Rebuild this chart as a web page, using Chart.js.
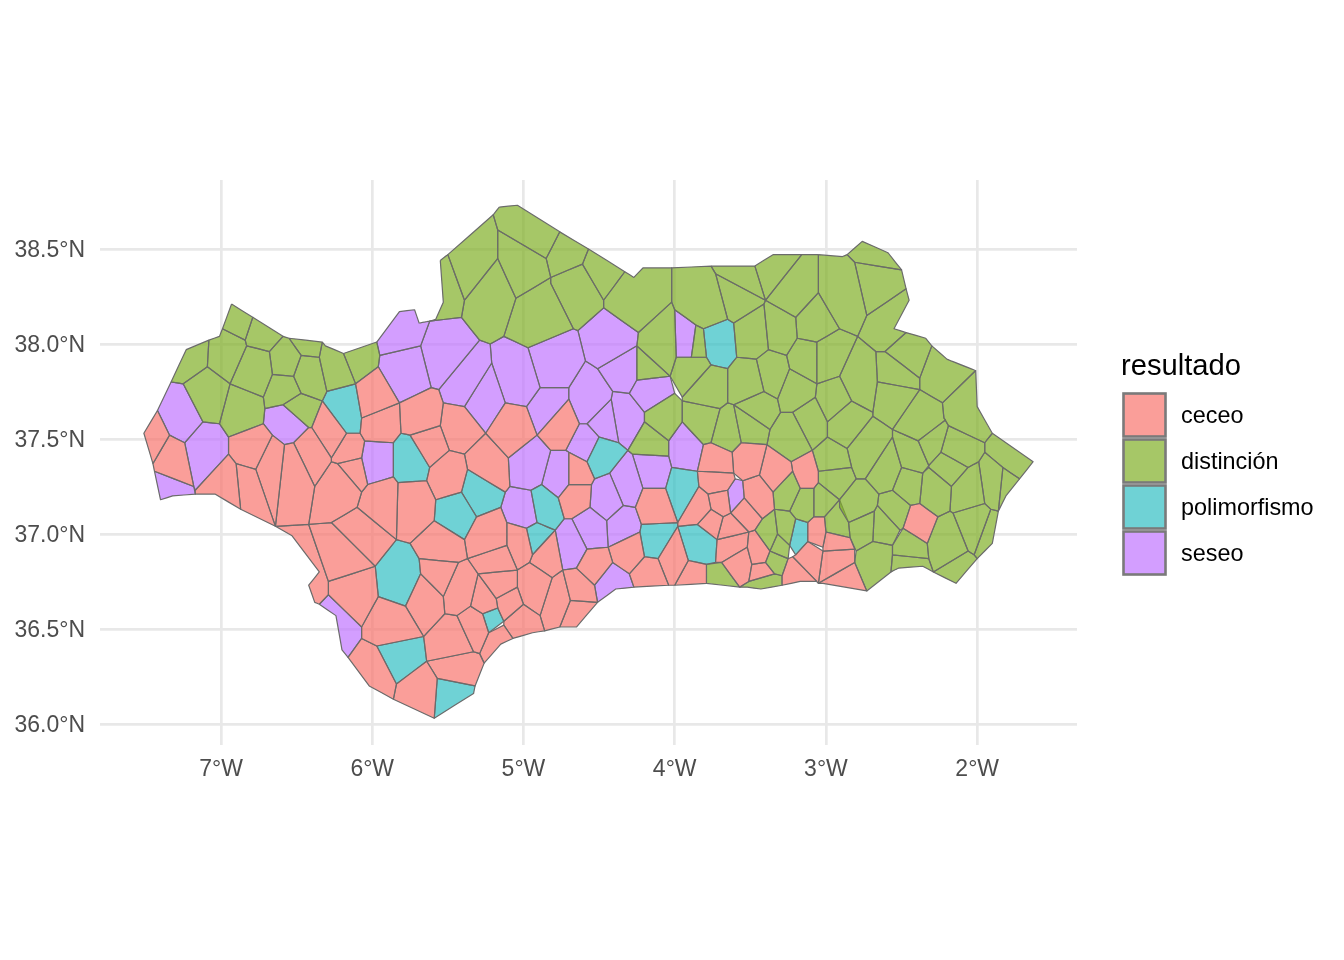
<!DOCTYPE html>
<html>
<head>
<meta charset="utf-8">
<title>resultado</title>
<script src="https://cdn.jsdelivr.net/npm/chart.js@4"></script>
<style>
  html, body { margin: 0; padding: 0; background: #fff; }
  canvas { display: block; }
</style>
</head>
<body>
<canvas id="mapChart" width="1344" height="960"></canvas>
<script>
// Tick positions of the graticule
const lonTicks = [-7, -6, -5, -4, -3, -2];
const latTicks = [36, 36.5, 37, 37.5, 38, 38.5];

// Legend entries
const resultNames = ['ceceo', 'distinción', 'polimorfismo', 'seseo'];
const resultColors = ['248, 117, 109', '128, 175, 39', '50, 191, 195', '193, 117, 255'];

// One flat list per cell: degrees west, degrees north, degrees west, degrees north...
const ceceo = [
  [7.42,37.65, 7.34,37.52, 7.45,37.37, 7.51,37.53],
  [7.34,37.52, 7.24,37.48, 7.18,37.25, 7.44,37.33, 7.45,37.37],
  [7.17,37.23, 6.95,37.42, 6.90,37.37, 6.87,37.13, 7.04,37.21, 7.17,37.21],
  [6.90,37.37, 6.77,37.34, 6.64,37.04, 6.87,37.13],
  [6.95,37.51, 6.72,37.58, 6.66,37.52, 6.77,37.34, 6.90,37.37, 6.95,37.42],
  [6.66,37.52, 6.58,37.47, 6.64,37.04, 6.77,37.34],
  [6.58,37.47, 6.52,37.48, 6.38,37.25, 6.42,37.05, 6.64,37.04],
  [6.52,37.48, 6.42,37.56, 6.40,37.56, 6.27,37.40, 6.27,37.38, 6.38,37.25],
  [6.33,37.70, 6.17,37.53, 6.27,37.40, 6.40,37.56],
  [6.11,37.79, 5.96,37.88, 5.82,37.69, 6.07,37.61],
  [6.07,37.61, 5.82,37.69, 5.81,37.53, 5.86,37.48, 6.05,37.49, 6.08,37.53],
  [6.17,37.53, 6.08,37.53, 6.05,37.49, 6.07,37.40, 6.23,37.37, 6.27,37.38, 6.27,37.40],
  [6.27,37.38, 6.23,37.37, 6.07,37.22, 6.10,37.14, 6.27,37.06, 6.42,37.05, 6.38,37.25],
  [6.23,37.37, 6.07,37.40, 6.03,37.26, 6.07,37.22],
  [6.03,37.26, 5.86,37.30, 5.83,37.27, 5.84,36.97, 6.10,37.14, 6.07,37.22],
  [5.83,37.27, 5.64,37.28, 5.58,37.18, 5.59,37.07, 5.75,36.95, 5.84,36.97],
  [5.64,37.28, 5.62,37.35, 5.49,37.44, 5.39,37.42, 5.37,37.34, 5.41,37.22, 5.58,37.18],
  [6.27,37.06, 6.10,37.14, 5.84,36.97, 5.98,36.83],
  [6.42,37.05, 6.27,37.06, 5.98,36.83, 6.29,36.75],
  [6.64,37.04, 6.42,37.05, 6.29,36.75, 6.29,36.68, 6.35,36.63, 6.38,36.64, 6.42,36.73, 6.35,36.80, 6.53,36.99],
  [6.29,36.75, 5.98,36.83, 5.96,36.67, 6.07,36.51, 6.29,36.68],
  [5.96,36.67, 5.78,36.62, 5.66,36.46, 5.97,36.41, 6.07,36.45, 6.07,36.51],
  [5.78,36.62, 5.68,36.79, 5.53,36.67, 5.52,36.58, 5.66,36.46],
  [5.69,36.87, 5.43,36.85, 5.53,36.67, 5.68,36.79],
  [5.75,36.95, 5.59,37.07, 5.39,36.97, 5.37,36.87, 5.43,36.85, 5.69,36.87],
  [5.39,36.97, 5.31,37.09, 5.15,37.14, 5.11,37.06, 5.11,36.94, 5.37,36.87],
  [5.37,36.87, 5.11,36.94, 5.04,36.81, 5.30,36.79],
  [5.43,36.85, 5.37,36.87, 5.30,36.79, 5.35,36.62, 5.44,36.57, 5.52,36.58, 5.53,36.67],
  [5.30,36.79, 5.04,36.81, 5.04,36.72, 5.18,36.66],
  [5.30,36.79, 5.18,36.66, 5.17,36.61, 5.27,36.58, 5.35,36.62],
  [5.35,36.62, 5.27,36.58, 5.23,36.48, 5.29,36.37, 5.33,36.38, 5.44,36.57],
  [5.52,36.58, 5.44,36.57, 5.33,36.38, 5.64,36.33, 5.66,36.46],
  [6.07,36.45, 5.97,36.41, 5.84,36.21, 5.86,36.13, 6.02,36.20, 6.16,36.35],
  [5.84,36.21, 5.64,36.33, 5.57,36.24, 5.59,36.03, 5.86,36.13],
  [5.64,36.33, 5.33,36.38, 5.29,36.37, 5.26,36.32, 5.32,36.20, 5.57,36.24],
  [5.23,36.48, 5.13,36.52, 5.07,36.45, 5.15,36.42, 5.26,36.32, 5.29,36.37],
  [5.18,36.66, 5.04,36.72, 5.00,36.63, 5.13,36.54, 5.17,36.61],
  [5.13,36.54, 5.00,36.63, 4.89,36.57, 4.86,36.49, 4.94,36.48, 5.07,36.45, 5.13,36.52],
  [5.04,36.81, 4.96,36.85, 4.81,36.77, 4.89,36.57, 5.00,36.63, 5.04,36.72],
  [5.11,37.06, 4.98,37.03, 4.94,36.89, 4.96,36.85, 5.04,36.81, 5.11,36.94],
  [4.70,37.43, 4.58,37.38, 4.53,37.29, 4.55,37.26, 4.70,37.26],
  [4.70,37.26, 4.55,37.26, 4.56,37.14, 4.68,37.08, 4.73,37.08, 4.77,37.19],
  [4.94,36.89, 4.79,37.02, 4.74,36.81, 4.81,36.77, 4.96,36.85],
  [4.58,36.92, 4.44,36.93, 4.41,36.85, 4.53,36.73, 4.65,36.82],
  [4.44,36.93, 4.23,37.01, 4.20,36.88, 4.30,36.79, 4.41,36.85],
  [4.74,36.81, 4.65,36.82, 4.53,36.73, 4.51,36.64, 4.69,36.65],
  [4.81,36.77, 4.74,36.81, 4.69,36.65, 4.76,36.51, 4.86,36.49, 4.89,36.57],
  [4.69,36.65, 4.51,36.64, 4.65,36.51, 4.76,36.51],
  [4.30,36.79, 4.20,36.88, 4.11,36.87, 4.04,36.73, 4.27,36.72],
  [4.11,36.87, 3.98,37.04, 3.91,36.86, 4.00,36.73, 4.04,36.73],
  [4.21,37.24, 4.06,37.24, 3.98,37.06, 4.22,37.05, 4.26,37.14],
  [3.84,37.25, 3.78,37.21, 3.76,37.13, 3.85,37.05, 3.98,37.04, 3.98,37.06],
  [3.85,37.05, 3.76,37.13, 3.68,37.09, 3.72,36.97],
  [3.78,37.21, 3.65,37.23, 3.63,37.11, 3.68,37.09, 3.76,37.13],
  [3.85,37.33, 3.61,37.32, 3.60,37.29, 3.65,37.23, 3.78,37.21, 3.84,37.25],
  [3.81,37.47, 3.76,37.48, 3.62,37.43, 3.61,37.32, 3.85,37.33],
  [3.62,37.43, 3.56,37.48, 3.39,37.47, 3.44,37.31, 3.55,37.28, 3.61,37.32],
  [3.55,37.28, 3.44,37.31, 3.35,37.22, 3.34,37.13, 3.42,37.08, 3.54,37.19],
  [3.39,37.47, 3.23,37.38, 3.22,37.33, 3.35,37.22, 3.44,37.31],
  [3.23,37.38, 3.09,37.44, 3.05,37.33, 3.05,37.27, 3.08,37.24, 3.17,37.24, 3.22,37.33],
  [3.12,37.06, 3.08,37.09, 3.01,37.09, 3.00,37.01, 3.02,36.93, 3.12,36.96],
  [3.68,37.09, 3.63,37.11, 3.51,37.01, 3.72,36.97],
  [3.63,37.11, 3.54,37.19, 3.42,37.08, 3.47,37.02, 3.51,37.01],
  [3.51,37.01, 3.47,37.02, 3.37,36.91, 3.40,36.85, 3.49,36.84, 3.52,36.93],
  [3.49,36.84, 3.40,36.85, 3.34,36.79, 3.51,36.75],
  [3.69,36.85, 3.52,36.93, 3.49,36.84, 3.51,36.75, 3.57,36.72],
  [3.72,36.97, 3.51,37.01, 3.52,36.93, 3.69,36.85, 3.73,36.85],
  [4.00,36.73, 3.91,36.86, 3.79,36.84, 3.79,36.74],
  [3.29,36.78, 3.25,36.87, 3.22,36.88, 3.06,36.75, 3.12,36.75, 3.17,36.75, 3.29,36.73],
  [3.20,36.89, 3.12,36.96, 3.02,36.91, 3.05,36.74, 3.22,36.88],
  [3.00,37.01, 2.84,36.98, 2.81,36.92, 3.02,36.91, 3.02,36.93],
  [3.02,36.91, 2.81,36.92, 2.81,36.85, 3.05,36.74],
  [3.05,36.74, 2.81,36.85, 2.73,36.70, 3.02,36.74],
  [2.44,37.15, 2.38,37.16, 2.26,37.09, 2.33,36.95, 2.49,37.03],
  [5.82,37.69, 5.61,37.77, 5.56,37.76, 5.53,37.69, 5.55,37.57, 5.75,37.52, 5.81,37.53],
  [5.75,37.52, 5.55,37.57, 5.49,37.44, 5.62,37.35],
  [5.53,37.69, 5.39,37.67, 5.25,37.53, 5.39,37.42, 5.49,37.44, 5.55,37.57],
  [5.25,37.53, 5.12,37.69, 4.98,37.67, 4.91,37.52, 5.10,37.40],
  [5.25,37.53, 5.10,37.40, 5.09,37.25, 5.12,37.22, 5.37,37.34, 5.39,37.42],
  [4.70,37.71, 4.63,37.58, 4.72,37.44, 4.82,37.44, 4.91,37.52]
];

const distincion = [
  [6.93,38.21, 6.79,38.14, 6.84,38.02, 6.99,38.08],
  [6.79,38.14, 6.59,38.04, 6.68,37.96, 6.83,37.99, 6.84,38.02],
  [6.99,38.08, 6.84,38.02, 6.83,37.99, 6.94,37.79, 7.09,37.88, 7.08,38.02, 7.01,38.04],
  [7.08,38.02, 7.09,37.88, 7.25,37.79, 7.33,37.80, 7.23,37.97],
  [7.25,37.79, 7.09,37.88, 6.94,37.79, 7.01,37.58, 7.12,37.59],
  [6.83,37.99, 6.68,37.96, 6.66,37.84, 6.72,37.72, 6.94,37.79],
  [6.94,37.79, 6.72,37.72, 6.71,37.66, 6.72,37.58, 6.95,37.51, 7.01,37.58],
  [6.59,38.04, 6.55,38.03, 6.47,37.94, 6.52,37.83, 6.66,37.84, 6.68,37.96],
  [6.55,38.03, 6.33,38.01, 6.35,37.93, 6.47,37.94],
  [6.33,38.01, 6.31,37.99, 6.19,37.95, 6.11,37.79, 6.30,37.75, 6.35,37.93],
  [6.47,37.94, 6.35,37.93, 6.30,37.75, 6.33,37.70, 6.47,37.74, 6.52,37.83],
  [6.66,37.84, 6.52,37.83, 6.47,37.74, 6.59,37.68, 6.71,37.66, 6.72,37.72],
  [6.47,37.74, 6.33,37.70, 6.40,37.56, 6.42,37.56, 6.59,37.68],
  [6.19,37.95, 5.97,38.01, 5.95,37.94, 5.96,37.88, 6.11,37.79],
  [5.16,38.72, 5.04,38.73, 4.76,38.59, 4.85,38.45, 5.17,38.60, 5.20,38.68],
  [5.17,38.60, 4.85,38.45, 4.82,38.35, 5.05,38.24, 5.17,38.45],
  [5.20,38.68, 5.17,38.60, 5.17,38.45, 5.39,38.23, 5.50,38.47],
  [5.55,38.44, 5.50,38.47, 5.39,38.23, 5.41,38.14, 5.62,38.12, 5.58,38.13, 5.53,38.22],
  [5.39,38.23, 5.17,38.45, 5.05,38.24, 5.13,38.04, 5.22,38.00, 5.29,38.02, 5.41,38.14],
  [5.05,38.24, 4.82,38.35, 4.82,38.32, 4.67,38.08, 4.97,37.98, 5.13,38.04],
  [4.76,38.59, 4.57,38.50, 4.61,38.42, 4.82,38.35, 4.85,38.45],
  [4.57,38.50, 4.33,38.38, 4.47,38.23, 4.61,38.42],
  [4.82,38.35, 4.61,38.42, 4.47,38.23, 4.47,38.19, 4.64,38.07, 4.67,38.08, 4.82,38.32],
  [4.47,38.23, 4.33,38.38, 4.27,38.35, 4.21,38.40, 4.02,38.40, 4.02,38.22, 4.24,38.06, 4.47,38.19],
  [4.24,38.06, 4.02,38.22, 4.00,38.18, 3.99,37.93, 4.03,37.83, 4.25,37.99],
  [4.25,37.99, 4.03,37.83, 4.25,37.81],
  [4.02,38.22, 4.02,38.40, 3.76,38.41, 3.73,38.37, 3.65,38.13, 3.81,38.08, 3.86,38.10, 4.00,38.18],
  [3.76,38.41, 3.47,38.41, 3.40,38.23, 3.73,38.37],
  [3.73,38.37, 3.40,38.23, 3.41,38.21, 3.61,38.11, 3.65,38.13],
  [3.47,38.41, 3.35,38.47, 3.16,38.47, 3.40,38.23],
  [3.16,38.47, 3.05,38.47, 3.05,38.27, 3.20,38.14, 3.40,38.23],
  [3.05,38.47, 2.89,38.46, 2.86,38.47, 2.81,38.43, 2.73,38.15, 2.79,38.04, 2.91,38.08, 3.05,38.27],
  [2.86,38.47, 2.76,38.54, 2.59,38.48, 2.50,38.39, 2.81,38.43],
  [2.81,38.43, 2.50,38.39, 2.47,38.29, 2.73,38.15],
  [2.73,38.15, 2.47,38.29, 2.45,38.23, 2.55,38.08, 2.47,38.06, 2.61,37.96, 2.67,37.96, 2.79,38.04],
  [3.40,38.23, 3.20,38.14, 3.19,38.03, 3.26,37.94, 3.38,37.97, 3.41,38.21],
  [3.20,38.14, 3.05,38.27, 2.91,38.08, 3.06,38.01, 3.19,38.03],
  [3.06,38.01, 2.91,38.08, 2.79,38.04, 2.91,37.83, 3.06,37.79],
  [3.19,38.03, 3.06,38.01, 3.06,37.79, 3.24,37.87, 3.26,37.94],
  [3.61,38.11, 3.41,38.21, 3.38,37.97, 3.46,37.92, 3.59,37.93],
  [3.86,38.10, 3.81,38.08, 3.79,37.93, 3.89,37.93],
  [3.99,37.93, 3.79,37.93, 3.76,37.89, 3.95,37.72, 4.03,37.83],
  [3.76,37.89, 3.65,37.87, 3.65,37.69, 3.70,37.66, 3.95,37.70, 3.95,37.72],
  [3.65,37.87, 3.59,37.93, 3.46,37.92, 3.41,37.75, 3.61,37.68, 3.65,37.69],
  [3.46,37.92, 3.38,37.97, 3.26,37.94, 3.24,37.87, 3.32,37.71, 3.41,37.75],
  [3.24,37.87, 3.06,37.79, 3.07,37.72, 3.22,37.64, 3.30,37.64, 3.32,37.71],
  [3.41,37.75, 3.32,37.71, 3.30,37.64, 3.37,37.55, 3.61,37.68],
  [3.61,37.68, 3.37,37.55, 3.39,37.47, 3.56,37.48],
  [3.70,37.66, 3.65,37.69, 3.61,37.68, 3.56,37.48, 3.62,37.43, 3.76,37.48],
  [3.37,37.55, 3.30,37.64, 3.22,37.64, 3.09,37.44, 3.23,37.38, 3.39,37.47],
  [3.95,37.70, 3.70,37.66, 3.76,37.48, 3.81,37.47, 3.95,37.59],
  [4.20,37.64, 4.00,37.74, 3.95,37.70, 3.95,37.59, 4.04,37.49, 4.20,37.59],
  [4.31,37.44, 4.20,37.59, 4.04,37.49, 4.04,37.41, 4.28,37.42],
  [3.06,37.79, 2.91,37.83, 2.83,37.70, 2.99,37.59, 3.07,37.72],
  [2.91,37.83, 2.79,38.04, 2.67,37.96, 2.66,37.80, 2.69,37.64, 2.83,37.70],
  [2.83,37.70, 2.69,37.64, 2.69,37.62, 2.86,37.45, 2.99,37.51, 2.99,37.59],
  [3.07,37.72, 2.99,37.59, 2.99,37.51, 3.09,37.44, 3.22,37.64],
  [3.09,37.44, 2.99,37.51, 2.86,37.45, 2.83,37.35, 3.05,37.33],
  [2.69,37.62, 2.56,37.55, 2.56,37.51, 2.74,37.29, 2.80,37.29, 2.83,37.35, 2.86,37.45],
  [2.66,37.80, 2.38,37.76, 2.56,37.55, 2.69,37.62, 2.69,37.64],
  [2.38,37.76, 2.23,37.69, 2.22,37.61, 2.21,37.60, 2.39,37.49, 2.56,37.55],
  [2.67,37.96, 2.61,37.96, 2.38,37.82, 2.38,37.76, 2.66,37.80],
  [2.61,37.96, 2.47,38.06, 2.34,38.03, 2.30,37.99, 2.38,37.82],
  [2.30,37.99, 2.20,37.92, 2.01,37.86, 2.23,37.69, 2.38,37.76, 2.38,37.82],
  [2.01,37.86, 2.00,37.67, 1.90,37.53, 1.95,37.48, 2.19,37.57, 2.22,37.61, 2.23,37.69],
  [2.39,37.49, 2.21,37.60, 2.19,37.57, 2.24,37.43, 2.32,37.36],
  [2.19,37.57, 1.95,37.48, 1.95,37.43, 1.99,37.38, 2.06,37.35, 2.24,37.43],
  [2.56,37.51, 2.56,37.55, 2.39,37.49, 2.32,37.36, 2.36,37.32, 2.50,37.35],
  [2.74,37.29, 2.56,37.51, 2.50,37.35, 2.56,37.23, 2.65,37.21],
  [2.56,37.23, 2.50,37.35, 2.36,37.32, 2.38,37.16, 2.44,37.15],
  [2.38,37.16, 2.36,37.32, 2.32,37.35, 2.17,37.25, 2.18,37.12, 2.26,37.09],
  [2.32,37.36, 2.24,37.43, 2.06,37.35, 2.17,37.25, 2.32,37.35],
  [2.17,37.25, 2.06,37.35, 1.99,37.38, 1.95,37.16, 2.16,37.11, 2.18,37.12],
  [1.99,37.38, 1.95,37.43, 1.83,37.35, 1.86,37.12, 1.91,37.13, 1.95,37.16],
  [1.83,37.35, 1.72,37.29, 1.81,37.20, 1.86,37.12],
  [1.95,37.48, 1.90,37.53, 1.63,37.38, 1.72,37.29, 1.83,37.35, 1.95,37.43],
  [2.26,37.09, 2.18,37.12, 2.16,37.11, 2.06,36.91, 2.29,36.80, 2.32,36.87, 2.33,36.95],
  [2.16,37.11, 1.95,37.16, 1.91,37.13, 2.02,36.89, 2.06,36.91],
  [1.91,37.13, 1.86,37.12, 1.90,36.95, 2.00,36.87, 2.02,36.89],
  [2.29,36.80, 2.06,36.91, 2.02,36.89, 2.00,36.87, 2.14,36.74],
  [2.56,36.94, 2.49,37.03, 2.33,36.95, 2.32,36.87, 2.56,36.89],
  [2.56,36.89, 2.32,36.87, 2.29,36.80, 2.36,36.83, 2.52,36.82, 2.57,36.80],
  [2.80,36.91, 2.69,36.96, 2.56,36.94, 2.56,36.89, 2.57,36.80, 2.73,36.70, 2.81,36.85],
  [2.85,37.06, 2.68,37.12, 2.69,36.96, 2.80,36.91, 2.84,36.98],
  [2.80,37.29, 2.74,37.29, 2.65,37.21, 2.66,37.15, 2.68,37.12, 2.85,37.06, 2.91,37.14, 2.91,37.18],
  [2.68,37.12, 2.66,37.15, 2.51,37.02, 2.56,36.94, 2.69,36.96],
  [2.65,37.21, 2.56,37.23, 2.44,37.15, 2.49,37.03, 2.51,37.02, 2.66,37.15],
  [3.22,37.33, 3.17,37.24, 3.24,37.12, 3.34,37.13, 3.35,37.22],
  [3.17,37.24, 3.08,37.24, 3.08,37.09, 3.12,37.06, 3.20,37.08, 3.24,37.12],
  [3.08,37.24, 3.05,37.27, 2.91,37.18, 3.01,37.09, 3.08,37.09],
  [3.05,37.33, 2.83,37.35, 2.80,37.29, 2.91,37.18, 3.05,37.27],
  [3.01,37.09, 2.91,37.18, 2.85,37.06, 2.84,36.98, 3.00,37.01],
  [3.34,37.13, 3.24,37.12, 3.20,37.08, 3.24,36.94, 3.32,37.00],
  [3.47,37.02, 3.42,37.08, 3.34,37.13, 3.32,37.00, 3.37,36.91],
  [3.32,37.00, 3.24,36.94, 3.25,36.87, 3.37,36.91],
  [3.37,36.91, 3.25,36.87, 3.29,36.78, 3.34,36.79, 3.40,36.85],
  [3.57,36.72, 3.51,36.75, 3.34,36.79, 3.29,36.78, 3.29,36.73, 3.43,36.71, 3.52,36.72],
  [3.79,36.84, 3.69,36.85, 3.57,36.72, 3.79,36.74]
];

const polimorfismo = [
  [6.30,37.75, 6.11,37.79, 6.07,37.61, 6.08,37.53, 6.17,37.53, 6.33,37.70],
  [5.81,37.53, 5.75,37.52, 5.62,37.35, 5.64,37.28, 5.83,37.27, 5.86,37.30, 5.86,37.48],
  [5.58,37.18, 5.41,37.22, 5.31,37.09, 5.39,36.97, 5.59,37.07],
  [5.41,37.22, 5.37,37.34, 5.12,37.22, 5.15,37.14, 5.31,37.09],
  [5.98,36.83, 5.84,36.97, 5.75,36.95, 5.69,36.87, 5.68,36.79, 5.78,36.62, 5.96,36.67],
  [5.27,36.58, 5.17,36.61, 5.13,36.54, 5.23,36.48],
  [5.97,36.41, 5.66,36.46, 5.64,36.33, 5.84,36.21],
  [5.57,36.24, 5.32,36.20, 5.33,36.16, 5.59,36.03],
  [4.88,37.26, 4.77,37.19, 4.73,37.08, 4.79,37.02, 4.91,37.06, 4.95,37.23],
  [4.98,37.03, 4.91,37.06, 4.79,37.02, 4.94,36.89],
  [4.58,37.38, 4.50,37.51, 4.37,37.48, 4.31,37.44, 4.43,37.32, 4.53,37.29],
  [4.22,37.05, 3.98,37.06, 3.98,37.04, 4.11,36.87, 4.20,36.88, 4.23,37.01],
  [4.02,37.35, 3.85,37.33, 3.84,37.25, 3.98,37.06, 4.06,37.24],
  [3.98,37.04, 3.85,37.05, 3.72,36.97, 3.73,36.85, 3.79,36.84, 3.91,36.86],
  [3.20,37.08, 3.12,37.06, 3.12,36.96, 3.20,36.89, 3.24,36.94],
  [3.81,38.08, 3.65,38.13, 3.61,38.11, 3.59,37.93, 3.65,37.87, 3.76,37.89, 3.79,37.93]
];

const seseo = [
  [7.33,37.80, 7.25,37.79, 7.12,37.59, 7.24,37.48, 7.34,37.52, 7.42,37.65],
  [7.12,37.59, 7.01,37.58, 6.95,37.51, 6.95,37.42, 7.17,37.23, 7.18,37.25, 7.24,37.48],
  [6.72,37.58, 6.71,37.66, 6.59,37.68, 6.42,37.56, 6.52,37.48, 6.58,37.47, 6.66,37.52],
  [7.44,37.33, 7.18,37.25, 7.17,37.21, 7.32,37.20, 7.40,37.18],
  [6.05,37.49, 5.86,37.48, 5.86,37.30, 6.03,37.26, 6.07,37.40],
  [6.35,36.63, 6.29,36.68, 6.07,36.51, 6.07,36.45, 6.16,36.35, 6.20,36.39, 6.24,36.57],
  [5.10,37.40, 4.91,37.52, 4.82,37.44, 4.88,37.26, 4.95,37.23, 5.09,37.25],
  [4.82,37.44, 4.72,37.44, 4.70,37.43, 4.70,37.26, 4.77,37.19, 4.88,37.26],
  [5.09,37.25, 4.95,37.23, 4.91,37.06, 4.98,37.03, 5.11,37.06, 5.15,37.14, 5.12,37.22],
  [4.79,37.02, 4.73,37.08, 4.68,37.08, 4.58,36.92, 4.65,36.82, 4.74,36.81],
  [4.68,37.08, 4.56,37.14, 4.45,37.07, 4.44,36.93, 4.58,36.92],
  [4.53,37.29, 4.43,37.32, 4.34,37.15, 4.45,37.07, 4.56,37.14, 4.55,37.26],
  [4.43,37.32, 4.31,37.44, 4.28,37.42, 4.21,37.24, 4.26,37.14, 4.34,37.15],
  [4.45,37.07, 4.34,37.15, 4.26,37.14, 4.22,37.05, 4.23,37.01, 4.44,36.93],
  [4.53,36.73, 4.41,36.85, 4.30,36.79, 4.27,36.72, 4.39,36.71, 4.51,36.64],
  [4.28,37.42, 4.04,37.41, 4.02,37.35, 4.06,37.24, 4.21,37.24],
  [4.04,37.49, 3.95,37.59, 3.81,37.47, 3.85,37.33, 4.02,37.35, 4.04,37.41],
  [3.60,37.29, 3.55,37.28, 3.54,37.19, 3.63,37.11, 3.65,37.23],
  [4.00,38.18, 3.86,38.10, 3.89,37.93, 3.99,37.93],
  [4.30,37.74, 4.25,37.81, 4.03,37.83, 4.00,37.74, 4.20,37.64],
  [5.97,38.01, 5.82,38.17, 5.72,38.18, 5.69,38.11, 5.62,38.12, 5.68,37.99, 5.95,37.94],
  [5.95,37.94, 5.68,37.99, 5.61,37.77, 5.82,37.69, 5.96,37.88],
  [5.62,38.12, 5.41,38.14, 5.29,38.02, 5.56,37.76, 5.61,37.77, 5.68,37.99],
  [5.56,37.76, 5.29,38.02, 5.22,38.00, 5.21,37.90, 5.39,37.67, 5.53,37.69],
  [5.21,37.90, 5.12,37.69, 5.25,37.53, 5.39,37.67],
  [5.22,38.00, 5.13,38.04, 4.97,37.98, 4.89,37.77, 4.98,37.67, 5.12,37.69, 5.21,37.90],
  [4.97,37.98, 4.67,38.08, 4.64,38.07, 4.59,37.91, 4.70,37.77, 4.89,37.77],
  [4.64,38.07, 4.47,38.19, 4.24,38.06, 4.25,37.99, 4.51,37.87, 4.59,37.91],
  [4.51,37.87, 4.25,37.99, 4.25,37.81, 4.30,37.74, 4.41,37.75],
  [4.59,37.91, 4.51,37.87, 4.41,37.75, 4.42,37.71, 4.58,37.58, 4.63,37.58, 4.70,37.71, 4.70,37.77],
  [4.89,37.77, 4.70,37.77, 4.70,37.71, 4.91,37.52, 4.98,37.67],
  [4.63,37.58, 4.58,37.58, 4.50,37.51, 4.58,37.38, 4.70,37.43, 4.72,37.44],
  [4.58,37.58, 4.42,37.71, 4.37,37.48, 4.50,37.51],
  [4.41,37.75, 4.30,37.74, 4.20,37.64, 4.20,37.59, 4.31,37.44, 4.37,37.48, 4.42,37.71]
];

const cellsByResult = [ceceo, distincion, polimorfismo, seseo];
const FILL_ALPHA = 0.7;
const FONT = '"Liberation Sans", Arial, sans-serif';

// Turn a flat cell list into closed {x, y} points, west being negative x
function cellPoints(cell) {
  const points = [];
  for (let i = 0; i < cell.length; i += 2) {
    points.push({ x: -cell[i], y: cell[i + 1] });
  }
  points.push(points[0]);
  return points;
}

// Every cell is its own closed scatter line
const datasets = [];
cellsByResult.forEach(function (cells, r) {
  cells.forEach(function (cell) {
    datasets.push({
      label: resultNames[r],
      data: cellPoints(cell),
      showLine: true,
      fill: 'shape',
      // a tiny tension keeps every vertex, the straight-line path merges points in one pixel column
      tension: 0.0001,
      backgroundColor: `rgba(${resultColors[r]}, ${FILL_ALPHA})`,
      borderColor: '#6b6b6b',
      borderWidth: 1.2,
      borderJoinStyle: 'round',
      pointRadius: 0,
      pointHoverRadius: 0
    });
  });
});

// Legend on the right, drawn after the chart
const resultLegend = {
  id: 'resultLegend',
  afterDraw(chart) {
    const ctx = chart.ctx;
    ctx.save();
    ctx.textBaseline = 'middle';
    ctx.textAlign = 'left';
    ctx.fillStyle = '#000000';
    ctx.font = `29.2px ${FONT}`;
    ctx.fillText('resultado', 1121, 366.5);
    ctx.font = `23.4px ${FONT}`;
    resultNames.forEach(function (name, i) {
      const top = 392 + i * 46;
      ctx.fillStyle = `rgba(${resultColors[i]}, ${FILL_ALPHA})`;
      ctx.fillRect(1123.5, top + 1.5, 42, 43);
      ctx.strokeStyle = '#7a7a7a';
      ctx.lineWidth = 2.6;
      ctx.strokeRect(1123.5, top + 1.5, 42, 43);
      ctx.fillStyle = '#000000';
      ctx.fillText(name, 1181, top + 25);
    });
    ctx.restore();
  }
};

const tickFont = { family: FONT, size: 23 };

new Chart(document.getElementById('mapChart'), {
  type: 'scatter',
  data: { datasets: datasets },
  plugins: [resultLegend],
  options: {
    responsive: false,
    animation: false,
    devicePixelRatio: 1,
    layout: { padding: { top: 180, right: 267, left: 0, bottom: 0 } },
    plugins: { legend: { display: false }, tooltip: { enabled: false } },
    events: [],
    scales: {
      x: {
        type: 'linear',
        min: -7.8,
        max: -1.34,
        afterBuildTicks(scale) {
          scale.ticks = lonTicks.map(v => ({ value: v }));
        },
        afterFit(scale) { scale.height = 215; },
        ticks: {
          autoSkip: false,
          maxRotation: 0,
          padding: 11,
          color: '#4D4D4D',
          font: tickFont,
          callback: v => `${Math.abs(v)}°W`
        },
        grid: { color: '#E8E8E8', lineWidth: 2.7, drawTicks: false },
        border: { display: false }
      },
      y: {
        type: 'linear',
        min: 35.889,
        max: 38.863,
        afterBuildTicks(scale) {
          scale.ticks = latTicks.map(v => ({ value: v }));
        },
        afterFit(scale) { scale.width = 100; },
        ticks: {
          autoSkip: false,
          padding: 15,
          labelOffset: 2,
          color: '#4D4D4D',
          font: tickFont,
          callback: v => `${v.toFixed(1)}°N`
        },
        grid: { color: '#E8E8E8', lineWidth: 2.7, drawTicks: false },
        border: { display: false }
      }
    }
  }
});
</script>
</body>
</html>
